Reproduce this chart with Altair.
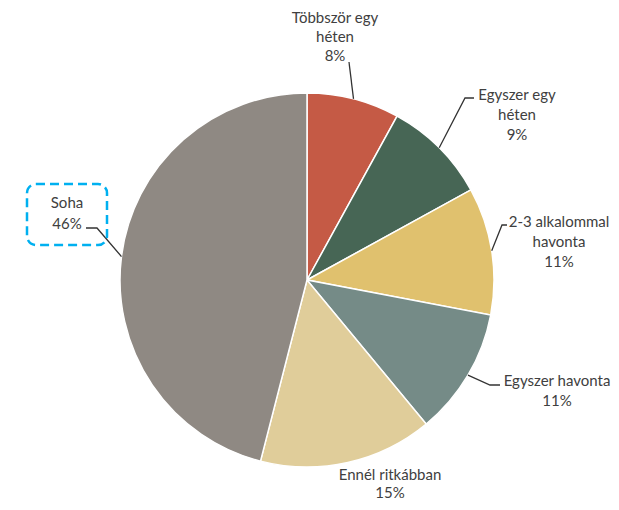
import math
import altair as alt
import pandas as pd

# ---- data ----
categories = ["Többször egy héten", "Egyszer egy héten", "2-3 alkalommal havonta",
              "Egyszer havonta", "Ennél ritkábban", "Soha"]
values = [8, 9, 11, 11, 15, 46]
colors = ["#C55A45", "#476655", "#E0C16E", "#758B87", "#E0CD9A", "#8F8983"]
label_lines = [
    ["Többször egy", "héten", "8%"],
    ["Egyszer egy", "héten", "9%"],
    ["2-3 alkalommal", "havonta", "11%"],
    ["Egyszer havonta", "11%"],
    ["Ennél ritkábban", "15%"],
    ["Soha", "46%"],
]

# ---- layout ----
W, H = 603, 494
CX, CY, R = 299, 272, 187
FONT = "Lato"
FS = 15
TEXT_COLOR = "#404040"
# label anchor (centre x, first line y, line height) in plot pixels
label_anchor = [(327, 10, 19), (509, 87, 20), (551, 214, 20), (549, 373, 20), (382, 467, 18), (59, 195, 21)]
# leader elbow/end points (None = no leader)
leader_pts = [
    [(341, 54)],
    [(457, 90), (466, 90)],
    [(494, 217), (499, 217)],
    [(482, 377), (492, 377)],
    None,
    [(89, 220), (78, 220)],
]

pie_df = pd.DataFrame({"cat": categories, "value": values, "idx": list(range(len(values)))})

# text rows
trows = []
for k, lines in enumerate(label_lines):
    ax, ay, lh = label_anchor[k]
    for i, t in enumerate(lines):
        trows.append({"t": t, "x": ax, "y": ay + i * lh})
text_df = pd.DataFrame(trows)

# leader rows: start at slice mid-angle on the pie edge
total = sum(values)
lrows = []
cum = 0
for k, v in enumerate(values):
    mid = (cum + v / 2) / total * 2 * math.pi
    cum += v
    if leader_pts[k] is None:
        continue
    sx = CX + R * math.sin(mid)
    sy = CY - R * math.cos(mid)
    pts = [(sx, sy)] + leader_pts[k]
    for i, (px, py) in enumerate(pts):
        lrows.append({"k": k, "i": i, "x": px, "y": py})
lead_df = pd.DataFrame(lrows)

pie = alt.Chart(pie_df).mark_arc(outerRadius=R, stroke="white", strokeWidth=1.5).encode(
    theta=alt.Theta("value:Q", stack=True),
    color=alt.Color("cat:N", scale=alt.Scale(domain=categories, range=colors), legend=None),
    order=alt.Order("idx:Q"),
    x=alt.value(CX),
    y=alt.value(CY),
)

leaders = alt.Chart(lead_df).mark_line(color="#333333", strokeWidth=1.3).encode(
    x=alt.X("x:Q", scale=None),
    y=alt.Y("y:Q", scale=None),
    detail="k:N",
    order="i:Q",
)

texts = alt.Chart(text_df).mark_text(
    font=FONT, fontSize=FS, color=TEXT_COLOR, align="center", baseline="middle"
).encode(
    x=alt.X("x:Q", scale=None),
    y=alt.Y("y:Q", scale=None),
    text="t:N",
)

box = alt.Chart(pd.DataFrame({"a": [0]})).mark_rect(
    fillOpacity=0, stroke="#00B0F0", strokeWidth=2.5, strokeDash=[9, 5], cornerRadius=9
).encode(
    x=alt.value(19), x2=alt.value(99), y=alt.value(176), y2=alt.value(237)
)

chart = alt.layer(pie, leaders, box, texts).properties(
    width=W, height=H, padding=0, autosize=alt.AutoSizeParams(type="none")
).configure_view(stroke=None)

chart.save("out.html", embed_options={"renderer": "svg", "actions": False})
